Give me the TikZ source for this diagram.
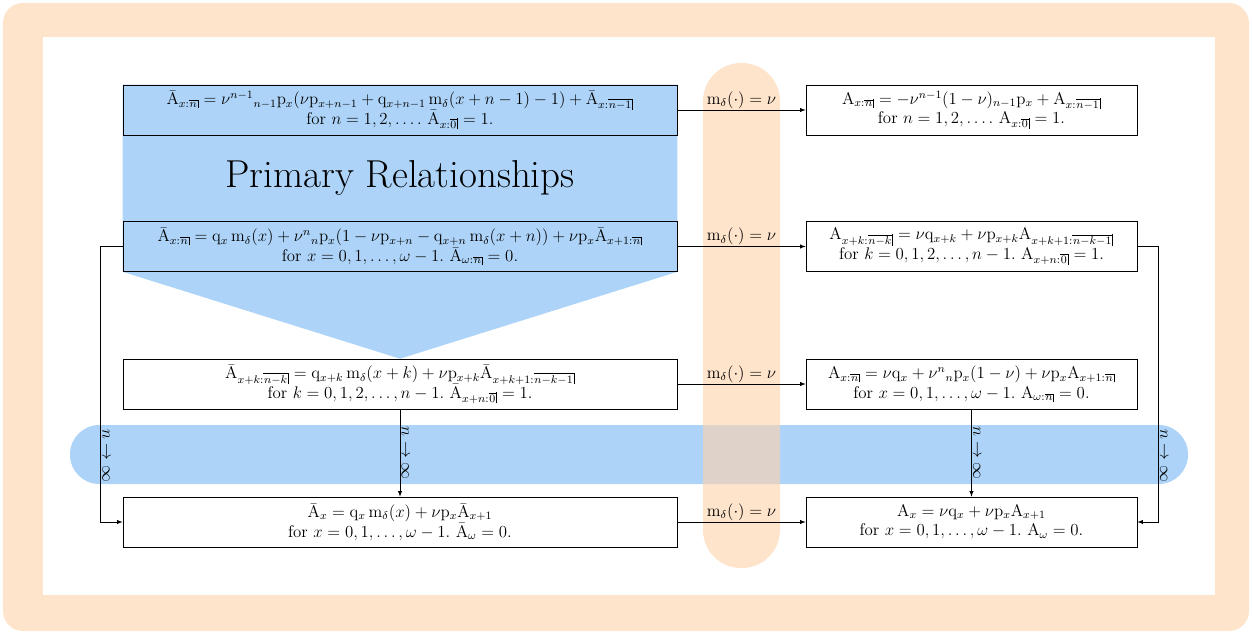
\RequirePackage{fix-cm}
\documentclass[12pt,tikz,border=0pt]{standalone}
\usepackage{amsmath}
\usepackage{amssymb}
\usetikzlibrary{backgrounds, positioning}
\definecolor{primblue}{RGB}{173,212,248}
\definecolor{framepeach}{RGB}{255,228,204}
\definecolor{barpeach}{RGB}{255,210,170}
\newcommand{\angl}[1]{\hbox{$\scriptstyle\overline{\mkern1mu#1\mkern2mu}$\kern-0.4pt\vrule width 0.4pt depth 0.8pt}}
\newcommand{\Abar}{\bar{\mathrm{A}}}
\newcommand{\rA}{\mathrm{A}}
\newcommand{\tp}{\mathrm{p}}
\newcommand{\tq}{\mathrm{q}}
\newcommand{\mdel}{\mathrm{m}_\delta}

\begin{document}
\begin{tikzpicture}[
    x=0.025cm, y=-0.025cm,
    lbox/.style={draw, minimum width=13.85cm, minimum height=1.25cm, align=center, inner sep=1pt,
        font=\fontsize{12pt}{14pt}\selectfont},
    rbox/.style={lbox, minimum width=8.275cm},
    connection/.style={-latex},
    force label/.style={above, inner sep=1pt},
    limit label/.style={rotate=-90, anchor=south, inner sep=1pt}
]
    \useasboundingbox (0,0) rectangle (1252,634);

    % Left column (continuous)
    \node[lbox] (l1) at (400,110) {$\Abar_{x:\angl{n}} = \nu^{n-1}{}_{n-1}\tp_x(\nu\tp_{x+n-1} + \tq_{x+n-1}\,\mdel(x+n-1) - 1) + \Abar_{x:\angl{n-1}}$\\
        for $n = 1, 2, \ldots.\ \Abar_{x:\angl{0}} = 1.$};
    \node[lbox] (l2) at (400,246.5) {$\Abar_{x:\angl{n}} = \tq_x\,\mdel(x) + \nu^n{}_n\tp_x(1 - \nu\tp_{x+n} - \tq_{x+n}\,\mdel(x+n)) + \nu\tp_x\Abar_{x+1:\angl{n}}$\\
        for $x = 0, 1, \ldots, \omega-1.\ \Abar_{\omega:\angl{n}} = 0.$};
    \node[lbox] (l3) at (400,384) {$\Abar_{x+k:\angl{n-k}} = \tq_{x+k}\,\mdel(x+k) + \nu\tp_{x+k}\Abar_{x+k+1:\angl{n-k-1}}$\\
        for $k = 0, 1, 2, \ldots, n-1.\ \Abar_{x+n:\angl{0}} = 1.$};
    \node[lbox] (l4) at (400,522) {$\Abar_x = \tq_x\,\mdel(x) + \nu\tp_x\Abar_{x+1}$\\
        for $x = 0, 1, \ldots, \omega-1.\ \Abar_\omega = 0.$};
    \node[font=\fontsize{27.7pt}{33pt}\selectfont] (title) at (400,178) {Primary Relationships};

    % Right column (discrete)
    \node[rbox] (r1) at (971.5,110) {$\rA_{x:\angl{n}} = -\nu^{n-1}(1-\nu)_{n-1}\tp_x + \rA_{x:\angl{n-1}}$\\
        for $n = 1, 2, \ldots.\ \rA_{x:\angl{0}} = 1.$};
    \node[rbox] (r2) at (971.5,246.5) {$\rA_{x+k:\angl{n-k}} = \nu\tq_{x+k} + \nu\tp_{x+k}\rA_{x+k+1:\angl{n-k-1}}$\\
        for $k = 0, 1, 2, \ldots, n-1.\ \rA_{x+n:\angl{0}} = 1.$};
    \node[rbox] (r3) at (971.5,384) {$\rA_{x:\angl{n}} = \nu\tq_x + \nu^n{}_n\tp_x(1-\nu) + \nu\tp_x\rA_{x+1:\angl{n}}$\\
        for $x = 0, 1, \ldots, \omega-1.\ \rA_{\omega:\angl{n}} = 0.$};
    \node[rbox] (r4) at (971.5,522) {$\rA_x = \nu\tq_x + \nu\tp_x\rA_{x+1}$\\
        for $x = 0, 1, \ldots, \omega-1.\ \rA_\omega = 0.$};

    % Constant force
    \foreach \i in {1,2,3,4} {
        \draw[connection] (l\i.east) -- node[force label] {$\mathrm{m}_\delta(\cdot) = \nu$} (r\i.west);
    }

    % Limits
    \draw[connection] (l3.south) -- node[limit label] {$n \to \infty$} (l4.north);
    \draw[connection] (r3.south) -- node[limit label] {$n \to \infty$} (r4.north);
    \draw[connection] (l2.west) -- ++(-22,0) |- node[pos=0.38, limit label] {$n \to \infty$} (l4.west);
    \draw[connection] (r2.east) -- ++(21,0) |- node[pos=0.38, limit label] {$n \to \infty$} (r4.east);

    % Background
    \begin{scope}[on background layer]
        \fill[framepeach, rounded corners=0.5cm] (3,3) rectangle (1249,631);
        \fill[white] (43,37) rectangle (1215,595);
        \fill[primblue] (l1.north west) -- (l1.north east) -- (l2.south east) -- (l3.north) -- (l2.south west) -- cycle;
        \fill[primblue, rounded corners=0.73cm] (70,425) rectangle (1188,484);
        \fill[barpeach, fill opacity=0.6, rounded corners=0.95cm] (703,63) rectangle (780,568);
    \end{scope}
\end{tikzpicture}
\end{document}
